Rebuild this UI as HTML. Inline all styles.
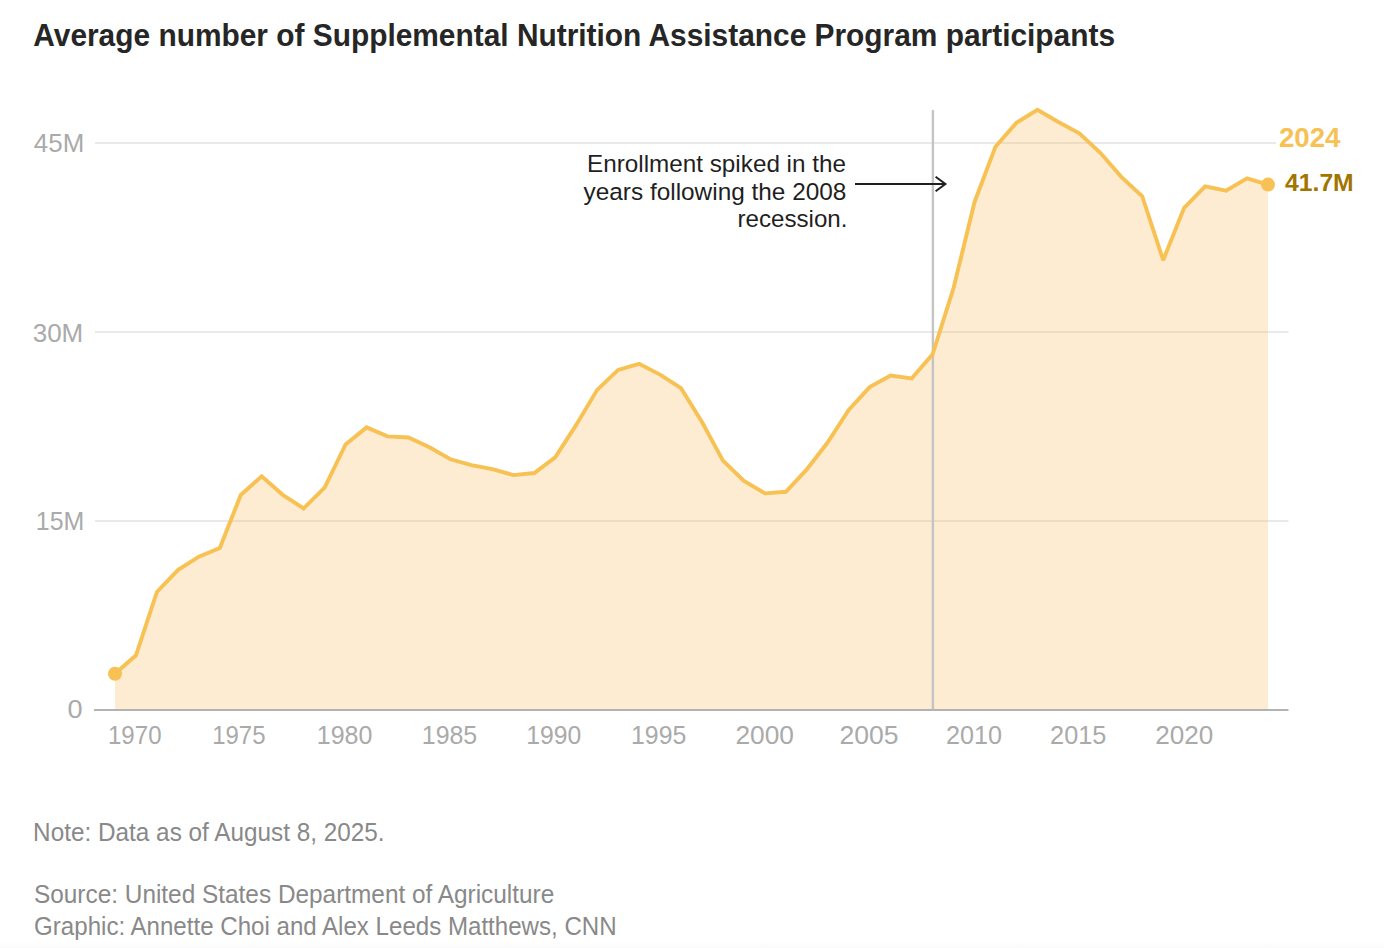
<!DOCTYPE html>
<html><head><meta charset="utf-8"><style>
html,body{margin:0;padding:0;background:#fff;}
body{width:1384px;height:948px;overflow:hidden;position:relative;font-family:"Liberation Sans", sans-serif;}
svg{position:absolute;left:0;top:0;}
.title{font-family:"Liberation Sans", sans-serif;font-weight:bold;font-size:30.6px;fill:#262626;}
.ax{font-family:"Liberation Sans", sans-serif;font-size:25px;fill:#aaaaaa;}
.ann{font-family:"Liberation Sans", sans-serif;font-size:24.5px;fill:#1f1f1f;}
.yr{font-family:"Liberation Sans", sans-serif;font-weight:bold;font-size:27px;fill:#f7c153;}
.val{font-family:"Liberation Sans", sans-serif;font-weight:bold;font-size:24px;fill:#a27400;}
.foot{font-family:"Liberation Sans", sans-serif;font-size:25.3px;fill:#898989;}
</style></head><body>
<svg width="1384" height="948" viewBox="0 0 1384 948">
<defs><linearGradient id="bg" x1="0" y1="0" x2="0" y2="1"><stop offset="0" stop-color="#fff"/><stop offset="1" stop-color="#fafafa"/></linearGradient></defs>
<rect x="0" y="941" width="1384" height="7" fill="url(#bg)"/>
<text id="title" x="33.30" y="45.80" text-anchor="start" class="title" textLength="1081.74" lengthAdjust="spacingAndGlyphs">Average number of Supplemental Nutrition Assistance Program participants</text>

<rect x="95" y="520.0" width="1193.5" height="2" fill="#e9e9e9"/>
<rect x="95" y="331.0" width="1193.5" height="2" fill="#e9e9e9"/>
<rect x="95" y="142.0" width="1181.0" height="2" fill="#e9e9e9"/>

<text id="y0" x="82.70" y="717.80" text-anchor="end" class="ax" textLength="15.07" lengthAdjust="spacingAndGlyphs">0</text>
<text id="y15M" x="84.30" y="530.00" text-anchor="end" class="ax" textLength="48.46" lengthAdjust="spacingAndGlyphs">15M</text>
<text id="y30M" x="83.30" y="341.60" text-anchor="end" class="ax" textLength="50.60" lengthAdjust="spacingAndGlyphs">30M</text>
<text id="y45M" x="84.20" y="152.20" text-anchor="end" class="ax" textLength="50.34" lengthAdjust="spacingAndGlyphs">45M</text>

<path d="M115.00,673.74 L135.96,655.32 L156.93,591.96 L177.89,570.03 L198.85,556.71 L219.82,547.94 L240.78,494.99 L261.75,476.28 L282.71,494.83 L303.67,508.39 L324.64,487.57 L345.60,444.37 L366.56,427.38 L387.53,436.37 L408.49,437.53 L429.45,447.24 L450.42,459.27 L471.38,465.19 L492.35,469.18 L513.31,475.07 L534.27,473.04 L555.24,457.38 L576.20,424.93 L597.16,389.87 L618.13,369.96 L639.09,363.83 L660.05,374.60 L681.02,388.16 L701.98,421.99 L722.95,460.63 L743.91,480.89 L764.87,493.36 L785.84,491.79 L806.80,469.39 L827.76,442.25 L848.73,409.98 L869.69,387.09 L890.65,375.48 L911.62,378.42 L932.58,354.39 L953.55,288.03 L974.51,202.19 L995.47,146.67 L1016.44,122.73 L1037.40,109.79 L1058.36,122.03 L1079.33,133.34 L1100.29,152.83 L1121.25,176.81 L1142.22,196.22 L1163.18,260.15 L1184.15,207.84 L1205.11,186.39 L1226.07,190.78 L1247.04,178.41 L1268.00,184.58 L1268.00,710.00 L115.00,710.00 Z" fill="#f8c066" fill-opacity="0.3"/>
<rect x="931.7" y="110" width="2.4" height="600" fill="#c4c4c4"/>
<rect x="94" y="709" width="1194.5" height="2" fill="#b3b3b3"/>
<path d="M115.00,673.74 L135.96,655.32 L156.93,591.96 L177.89,570.03 L198.85,556.71 L219.82,547.94 L240.78,494.99 L261.75,476.28 L282.71,494.83 L303.67,508.39 L324.64,487.57 L345.60,444.37 L366.56,427.38 L387.53,436.37 L408.49,437.53 L429.45,447.24 L450.42,459.27 L471.38,465.19 L492.35,469.18 L513.31,475.07 L534.27,473.04 L555.24,457.38 L576.20,424.93 L597.16,389.87 L618.13,369.96 L639.09,363.83 L660.05,374.60 L681.02,388.16 L701.98,421.99 L722.95,460.63 L743.91,480.89 L764.87,493.36 L785.84,491.79 L806.80,469.39 L827.76,442.25 L848.73,409.98 L869.69,387.09 L890.65,375.48 L911.62,378.42 L932.58,354.39 L953.55,288.03 L974.51,202.19 L995.47,146.67 L1016.44,122.73 L1037.40,109.79 L1058.36,122.03 L1079.33,133.34 L1100.29,152.83 L1121.25,176.81 L1142.22,196.22 L1163.18,260.15 L1184.15,207.84 L1205.11,186.39 L1226.07,190.78 L1247.04,178.41 L1268.00,184.58" fill="none" stroke="#f7c153" stroke-width="3.9" stroke-linejoin="miter" stroke-miterlimit="2"/>
<circle cx="115.00" cy="673.74" r="7" fill="#f7c153"/>
<circle cx="1268.00" cy="184.58" r="7" fill="#f7c153"/>
<text id="x1970" x="134.76" y="744.30" text-anchor="middle" class="ax" textLength="53.55" lengthAdjust="spacingAndGlyphs">1970</text>
<text id="x1975" x="238.88" y="744.30" text-anchor="middle" class="ax" textLength="53.33" lengthAdjust="spacingAndGlyphs">1975</text>
<text id="x1980" x="344.60" y="744.30" text-anchor="middle" class="ax" textLength="55.64" lengthAdjust="spacingAndGlyphs">1980</text>
<text id="x1985" x="449.52" y="744.30" text-anchor="middle" class="ax" textLength="55.45" lengthAdjust="spacingAndGlyphs">1985</text>
<text id="x1990" x="553.74" y="744.30" text-anchor="middle" class="ax" textLength="55.02" lengthAdjust="spacingAndGlyphs">1990</text>
<text id="x1995" x="658.65" y="744.30" text-anchor="middle" class="ax" textLength="55.23" lengthAdjust="spacingAndGlyphs">1995</text>
<text id="x2000" x="764.67" y="744.30" text-anchor="middle" class="ax" textLength="58.55" lengthAdjust="spacingAndGlyphs">2000</text>
<text id="x2005" x="869.09" y="744.30" text-anchor="middle" class="ax" textLength="59.00" lengthAdjust="spacingAndGlyphs">2005</text>
<text id="x2010" x="974.11" y="744.30" text-anchor="middle" class="ax" textLength="56.05" lengthAdjust="spacingAndGlyphs">2010</text>
<text id="x2015" x="1078.23" y="744.30" text-anchor="middle" class="ax" textLength="56.28" lengthAdjust="spacingAndGlyphs">2015</text>
<text id="x2020" x="1184.35" y="744.30" text-anchor="middle" class="ax" textLength="58.10" lengthAdjust="spacingAndGlyphs">2020</text>

<text id="ann1" x="846.00" y="171.90" text-anchor="end" class="ann" textLength="258.97" lengthAdjust="spacingAndGlyphs">Enrollment spiked in the</text>
<text id="ann2" x="846.40" y="200.10" text-anchor="end" class="ann" textLength="262.86" lengthAdjust="spacingAndGlyphs">years following the 2008</text>
<text id="ann3" x="847.50" y="226.80" text-anchor="end" class="ann" textLength="110.02" lengthAdjust="spacingAndGlyphs">recession.</text>

<line x1="855" y1="184" x2="945" y2="184" stroke="#1f1f1f" stroke-width="2"/>
<polyline points="935.6,176.7 945.4,184 935.6,191.3" fill="none" stroke="#1f1f1f" stroke-width="2"/>
<text id="yr" x="1278.90" y="147.40" text-anchor="start" class="yr" textLength="61.55" lengthAdjust="spacingAndGlyphs">2024</text>
<text id="val" x="1285.10" y="191.10" text-anchor="start" class="val" textLength="68.57" lengthAdjust="spacingAndGlyphs">41.7M</text>

<text id="note" x="33.10" y="840.90" text-anchor="start" class="foot" textLength="351.54" lengthAdjust="spacingAndGlyphs">Note: Data as of August 8, 2025.</text>
<text id="source" x="34.00" y="902.80" text-anchor="start" class="foot" textLength="520.28" lengthAdjust="spacingAndGlyphs">Source: United States Department of Agriculture</text>
<text id="graphic" x="34.10" y="935.20" text-anchor="start" class="foot" textLength="582.53" lengthAdjust="spacingAndGlyphs">Graphic: Annette Choi and Alex Leeds Matthews, CNN</text>

</svg>
</body></html>
